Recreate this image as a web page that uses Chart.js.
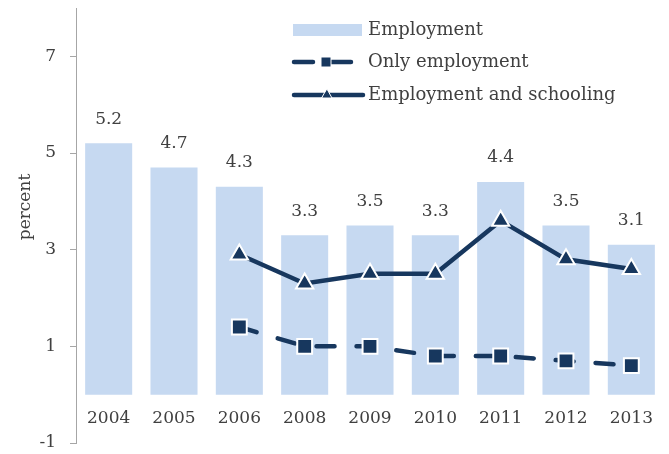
<!DOCTYPE html>
<html>
<head>
<meta charset="utf-8">
<script src="https://cdn.jsdelivr.net/npm/chart.js@4.4.1/dist/chart.umd.min.js"></script>
<style>
  html, body { margin: 0; padding: 0; background: #fff; }
  #wrap { width: 669px; height: 454px; }
</style>
</head>
<body>
<div id="wrap"><canvas id="chart"></canvas></div>
<script>
// Working youth, share by activity
const years = ['2004', '2005', '2006', '2008', '2009', '2010', '2011', '2012', '2013'];
const employment = [5.2, 4.7, 4.3, 3.3, 3.5, 3.3, 4.4, 3.5, 3.1];
const onlyEmployment = [null, null, 1.4, 1.0, 1.0, 0.8, 0.8, 0.7, 0.6];
const employmentSchooling = [null, null, 2.9, 2.3, 2.5, 2.5, 3.6, 2.8, 2.6];
const yTicks = [-1, 1, 3, 5, 7];

const FONT = '"DejaVu Serif", serif';
const TEXT = '#404040';
const BAR = '#C6D9F1';
const NAVY = '#17375E';

// value labels above the bars
const barLabels = {
    id: 'barLabels',
    afterDatasetsDraw(chart) {
        const ctx = chart.ctx;
        const meta = chart.getDatasetMeta(0);
        ctx.save();
        ctx.font = '17px ' + FONT;
        ctx.fillStyle = TEXT;
        ctx.textAlign = 'center';
        ctx.textBaseline = 'middle';
        meta.data.forEach((bar, i) => {
            ctx.fillText(employment[i].toFixed(1), bar.x, bar.y - 24);
        });
        ctx.restore();
    }
};

// y axis title, sits a bit above the middle
const yTitle = {
    id: 'yTitle',
    afterDraw(chart) {
        const ctx = chart.ctx;
        ctx.save();
        ctx.translate(26, 207);
        ctx.rotate(-Math.PI / 2);
        ctx.font = '17px ' + FONT;
        ctx.fillStyle = TEXT;
        ctx.textAlign = 'center';
        ctx.textBaseline = 'middle';
        ctx.fillText('percent', 0, 0);
        ctx.restore();
    }
};

// legend in the top right corner
const sideLegend = {
    id: 'sideLegend',
    afterDraw(chart) {
        const ctx = chart.ctx;
        const x0 = 293, x1 = 362, tx = 368;
        const rows = [30, 62, 95];
        ctx.save();
        // bar swatch
        ctx.fillStyle = BAR;
        ctx.fillRect(x0, rows[0] - 6, x1 - x0, 12);

        // dashed line with square
        ctx.strokeStyle = NAVY;
        ctx.lineWidth = 4.5;
        ctx.lineCap = 'round';
        ctx.beginPath();
        ctx.moveTo(x0 + 1, rows[1]); ctx.lineTo(x0 + 20, rows[1]);
        ctx.moveTo(x0 + 36, rows[1]); ctx.lineTo(x0 + 58, rows[1]);
        ctx.stroke();
        ctx.fillStyle = NAVY;
        ctx.strokeStyle = '#fff';
        ctx.lineWidth = 1;
        ctx.fillRect(x0 + 28, rows[1] - 5, 10, 10);
        ctx.strokeRect(x0 + 28, rows[1] - 5, 10, 10);

        // solid line with triangle
        ctx.strokeStyle = NAVY;
        ctx.lineWidth = 4.5;
        ctx.beginPath();
        ctx.moveTo(x0 + 1, rows[2]); ctx.lineTo(x1 + 1, rows[2]);
        ctx.stroke();
        const cx = x0 + 34;
        ctx.beginPath();
        ctx.moveTo(cx, rows[2] - 6);
        ctx.lineTo(cx + 5, rows[2] + 3);
        ctx.lineTo(cx - 5, rows[2] + 3);
        ctx.closePath();
        ctx.fillStyle = NAVY;
        ctx.fill();
        ctx.strokeStyle = '#fff';
        ctx.lineWidth = 1;
        ctx.stroke();

        ctx.font = '18px ' + FONT;
        ctx.fillStyle = TEXT;
        ctx.textAlign = 'left';
        ctx.textBaseline = 'middle';
        ctx.fillText('Employment', tx, rows[0]);
        ctx.fillText('Only employment', tx, rows[1]);
        ctx.fillText('Employment and schooling', tx, rows[2]);
        ctx.restore();
    }
};

new Chart(document.getElementById('chart'), {
    data: {
        labels: years,
        datasets: [
            {
                type: 'bar',
                label: 'Employment',
                data: employment,
                backgroundColor: BAR,
                borderWidth: 0,
                categoryPercentage: 1,
                barPercentage: 0.72,
                order: 2
            },
            {
                type: 'line',
                label: 'Only employment',
                data: onlyEmployment,
                borderColor: NAVY,
                borderWidth: 4.5,
                borderDash: [18, 22],
                borderCapStyle: 'round',
                pointStyle: 'rect',
                pointRadius: 10.5,
                pointBackgroundColor: NAVY,
                pointBorderColor: '#fff',
                pointBorderWidth: 2,
                tension: 0,
                order: 1
            },
            {
                type: 'line',
                label: 'Employment and schooling',
                data: employmentSchooling,
                borderColor: NAVY,
                borderWidth: 4.5,
                pointStyle: 'triangle',
                pointRadius: 10,
                pointBackgroundColor: NAVY,
                pointBorderColor: '#fff',
                pointBorderWidth: 2,
                tension: 0,
                order: 0
            }
        ]
    },
    options: {
        responsive: true,
        maintainAspectRatio: false,
        animation: false,
        layout: { autoPadding: false, padding: { top: 8, right: 5, bottom: 11, left: 0 } },
        plugins: {
            legend: { display: false },
            tooltip: { enabled: false }
        },
        scales: {
            x: {
                position: { y: 0 },
                afterFit(scale) {
                    scale.height = 0;
                    scale.paddingLeft = 0;
                    scale.paddingRight = 0;
                },
                grid: { display: false },
                border: { display: false },
                ticks: {
                    color: TEXT,
                    font: { family: FONT, size: 17 },
                    padding: 6,
                    maxRotation: 0
                }
            },
            y: {
                min: -1,
                max: 8,
                afterFit(scale) {
                    scale.width = 76;
                    scale.paddingTop = 0;
                    scale.paddingBottom = 0;
                },
                afterBuildTicks(scale) {
                    scale.ticks = yTicks.map(v => ({ value: v }));
                },
                grid: {
                    drawOnChartArea: false,
                    drawTicks: true,
                    tickLength: 6,
                    color: '#A6A6A6'
                },
                border: { display: true, color: '#A6A6A6', width: 1 },
                ticks: {
                    color: TEXT,
                    font: { family: FONT, size: 17 },
                    padding: 14
                }
            }
        }
    },
    plugins: [barLabels, yTitle, sideLegend]
});
</script>
</body>
</html>
